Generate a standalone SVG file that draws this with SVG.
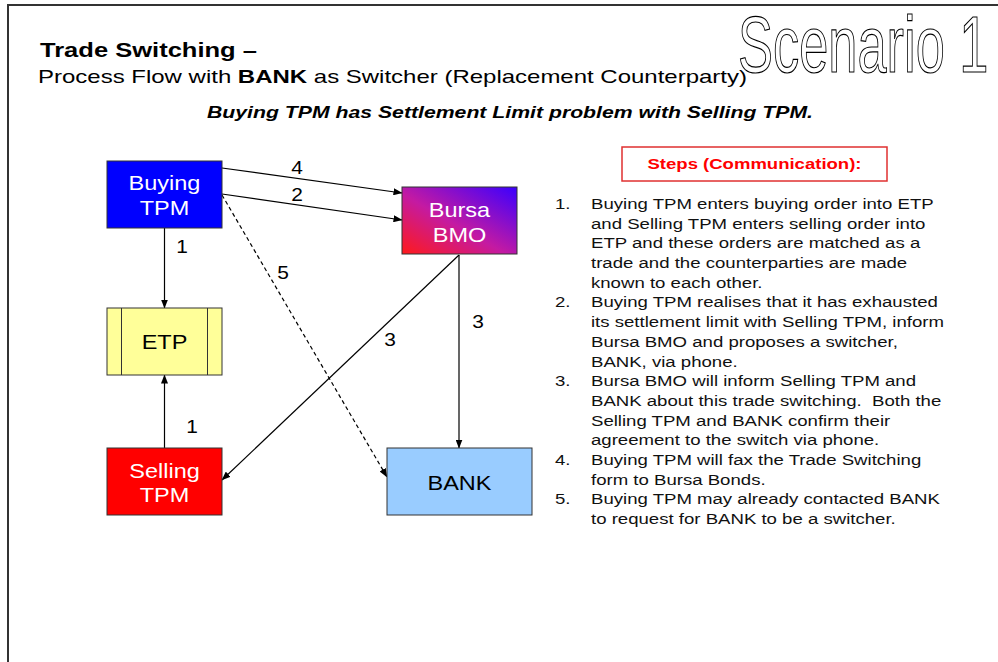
<svg xmlns="http://www.w3.org/2000/svg" width="998" height="662" viewBox="0 0 998 662">
<style>
text{font-family:"Liberation Sans",Arial,sans-serif}
.box{stroke:#333;stroke-width:1}
.lbl{font-size:21px;fill:#fff;text-anchor:middle}
.num{font-size:19px;fill:#000;text-anchor:middle}
.conn{stroke:#000;stroke-width:1.2;fill:none;marker-end:url(#ah)}
.list{font-size:15.5px;fill:#111}
</style>
<defs>
<marker id="ah" markerUnits="userSpaceOnUse" markerWidth="9" markerHeight="7" refX="8.5" refY="3.5" orient="auto"><path d="M0,0 L9,3.5 L0,7 z" fill="#000"/></marker>
<linearGradient id="bmoGrad" x1="0" y1="1" x2="1" y2="0"><stop offset="0" stop-color="#FF1A1A"/><stop offset="0.45" stop-color="#C41AA2"/><stop offset="1" stop-color="#3A00FF"/></linearGradient>
</defs>
<rect width="998" height="662" fill="#fff"/>
<path d="M8,663 L8,5 L999,5" fill="none" stroke="#333" stroke-width="2"/>

<g id="header">
<text x="40" y="57" font-size="19.5" font-weight="bold" textLength="217" lengthAdjust="spacingAndGlyphs">Trade Switching –</text>
<text x="38" y="83" font-size="19" textLength="709" lengthAdjust="spacingAndGlyphs">Process Flow with <tspan font-weight="bold">BANK</tspan> as Switcher (Replacement Counterparty)</text>
<text x="207" y="118" font-size="17" font-weight="bold" font-style="italic" textLength="606" lengthAdjust="spacingAndGlyphs">Buying TPM has Settlement Limit problem with Selling TPM.</text>
<text transform="translate(738,72) scale(0.655,1)" x="0" y="0" font-size="80" fill="#fff" stroke="#000" stroke-width="1.2" style="font-family:'Liberation Sans Narrow','Liberation Sans',Arial,sans-serif">Scenario 1</text>
</g>

<g id="connectors">
<path class="conn" d="M222,168 L402,193"/>
<path class="conn" d="M222,194 L402,220"/>
<path class="conn" d="M164.5,228 L164.5,308"/>
<path class="conn" d="M164.5,448 L164.5,375"/>
<path class="conn" d="M222,195 L387,477" stroke-dasharray="4,3"/>
<path class="conn" d="M459,255 L222,480"/>
<path class="conn" d="M459,255 L459,448"/>
<text class="num" transform="translate(297,174) scale(1.1,1)">4</text>
<text class="num" transform="translate(297,201) scale(1.1,1)">2</text>
<text class="num" transform="translate(182,253) scale(1.1,1)">1</text>
<text class="num" transform="translate(283,279) scale(1.1,1)">5</text>
<text class="num" transform="translate(478,328) scale(1.1,1)">3</text>
<text class="num" transform="translate(390,346) scale(1.1,1)">3</text>
<text class="num" transform="translate(192,433) scale(1.1,1)">1</text>
</g>

<g id="buying">
<rect class="box" x="107" y="161" width="115" height="67" fill="#0000FF"/>
<text class="lbl" transform="translate(164.5,190) scale(1.12,1)">Buying</text>
<text class="lbl" transform="translate(164.5,215) scale(1.12,1)">TPM</text>
</g>
<g id="bmo">
<rect class="box" x="402" y="187" width="115" height="67" fill="url(#bmoGrad)"/>
<text class="lbl" transform="translate(459.5,217) scale(1.12,1)">Bursa</text>
<text class="lbl" transform="translate(459.5,242) scale(1.12,1)">BMO</text>
</g>
<g id="etp">
<rect class="box" x="107" y="308" width="115" height="67" fill="#FFFF99"/>
<path d="M121.5,308 V375 M207.5,308 V375" stroke="#333" stroke-width="1"/>
<text class="lbl" style="fill:#000" transform="translate(164.5,349) scale(1.12,1)">ETP</text>
</g>
<g id="selling">
<rect class="box" x="107" y="448" width="115" height="67" fill="#FF0000"/>
<text class="lbl" transform="translate(164.5,478) scale(1.12,1)">Selling</text>
<text class="lbl" transform="translate(164.5,502) scale(1.12,1)">TPM</text>
</g>
<g id="bank">
<rect class="box" x="387" y="448" width="145" height="67" fill="#99CCFF"/>
<text class="lbl" style="fill:#000" transform="translate(459.5,490) scale(1.12,1)">BANK</text>
</g>

<g id="steps">
<rect x="622" y="147" width="265" height="34" fill="#fff" stroke="#E03030" stroke-width="1.5"/>
<text x="754.5" y="169" font-size="15" font-weight="bold" fill="#FF0000" text-anchor="middle" textLength="214" lengthAdjust="spacingAndGlyphs">Steps (Communication):</text>
<g class="list" transform="translate(555,0) scale(1.2,1)">
<text x="0" y="209">1.</text>
<text x="30" y="209">Buying TPM enters buying order into ETP</text>
<text x="30" y="228.7">and Selling TPM enters selling order into</text>
<text x="30" y="248.4">ETP and these orders are matched as a</text>
<text x="30" y="268.1">trade and the counterparties are made</text>
<text x="30" y="287.8">known to each other.</text>
<text x="0" y="307.5">2.</text>
<text x="30" y="307.5">Buying TPM realises that it has exhausted</text>
<text x="30" y="327.2">its settlement limit with Selling TPM, inform</text>
<text x="30" y="346.9">Bursa BMO and proposes a switcher,</text>
<text x="30" y="366.6">BANK, via phone.</text>
<text x="0" y="386.3">3.</text>
<text x="30" y="386.3">Bursa BMO will inform Selling TPM and</text>
<text x="30" y="406" xml:space="preserve">BANK about this trade switching.  Both the</text>
<text x="30" y="425.7">Selling TPM and BANK confirm their</text>
<text x="30" y="445.4">agreement to the switch via phone.</text>
<text x="0" y="465.1">4.</text>
<text x="30" y="465.1">Buying TPM will fax the Trade Switching</text>
<text x="30" y="484.8">form to Bursa Bonds.</text>
<text x="0" y="504.5">5.</text>
<text x="30" y="504.5">Buying TPM may already contacted BANK</text>
<text x="30" y="524.2">to request for BANK to be a switcher.</text>
</g>
</g>
</svg>
